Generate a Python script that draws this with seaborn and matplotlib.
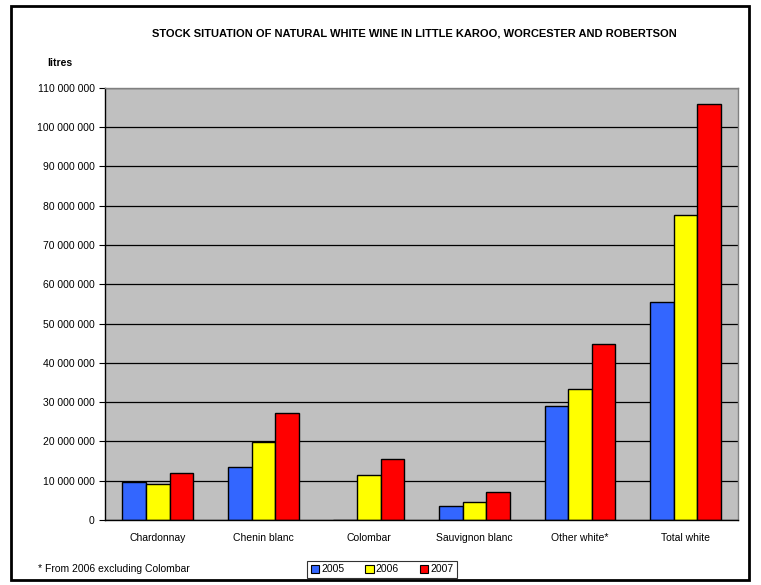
import numpy as np
import pandas as pd
import matplotlib
matplotlib.use("Agg")
import matplotlib.pyplot as plt
import matplotlib.patches as mpatches
import seaborn as sns

# ── Data ──────────────────────────────────────────────────────────────────────
categories = ["Chardonnay", "Chenin blanc", "Colombar", "Sauvignon blanc",
              "Other white*", "Total white"]
years = ["2005", "2006", "2007"]
stock_2005 = [9.6e6, 13.5e6, 0, 3.6e6, 29.0e6, 55.5e6]
stock_2006 = [9.1e6, 19.8e6, 11.5e6, 4.6e6, 33.3e6, 77.7e6]
stock_2007 = [11.9e6, 27.2e6, 15.5e6, 7.1e6, 44.7e6, 105.9e6]
colors = ["#3366FF", "#FFFF00", "#FF0000"]
yticks = np.arange(0, 110_000_001, 10_000_000)

df = pd.DataFrame({
    "category": categories * 3,
    "year": np.repeat(years, len(categories)),
    "litres": stock_2005 + stock_2006 + stock_2007,
})

# ── Plot ──────────────────────────────────────────────────────────────────────
sns.set_style("white")
plt.rcParams["font.family"] = ["Liberation Sans", "DejaVu Sans"]
plt.rcParams["text.color"] = "black"
plt.rcParams["xtick.color"] = "black"
plt.rcParams["ytick.color"] = "black"

fig = plt.figure(figsize=(7.61, 5.85), dpi=100)
ax = fig.add_axes([0.138, 0.111, 0.832, 0.739])
ax.set_facecolor("#C0C0C0")

sns.barplot(data=df, x="category", y="litres", hue="year", palette=colors,
            saturation=1, width=0.67, edgecolor="black", linewidth=1,
            legend=False, ax=ax)

ax.set_ylim(0, 110_000_000)
ax.set_xlim(-0.5, len(categories) - 0.5)
ax.set_yticks(yticks)
ax.set_yticklabels([f"{v:,}".replace(",", " ") for v in yticks], fontsize=7.5)
ax.yaxis.grid(True, color="black", linewidth=0.9)
ax.set_axisbelow(True)

ax.set_xticks(range(len(categories)))
ax.set_xticklabels(categories, fontsize=7.5)
ax.tick_params(axis="x", length=0, pad=9)
# tick marks sit at category boundaries
ax.set_xticks(np.arange(-0.5, len(categories)), minor=True)
ax.tick_params(axis="x", which="minor", direction="out", length=4, color="black")
ax.tick_params(axis="y", direction="out", length=4, color="black", left=True)
ax.set_xlabel("")
ax.set_ylabel("")

for side in ["left", "bottom"]:
    ax.spines[side].set_color("black")
    ax.spines[side].set_linewidth(1)
for side in ["top", "right"]:
    ax.spines[side].set_color("#808080")
    ax.spines[side].set_linewidth(1)

fig.text(0.545, 0.942, "STOCK SITUATION OF NATURAL WHITE WINE IN LITTLE KAROO, WORCESTER AND ROBERTSON",
         ha="center", va="center", fontsize=8, fontweight="bold")
fig.text(0.062, 0.893, "litres", ha="left", va="center", fontsize=7.5, fontweight="bold")
fig.text(0.05, 0.027, "* From 2006 excluding Colombar", ha="left", va="center", fontsize=7.5)

handles = [mpatches.Patch(facecolor=c, edgecolor="black", linewidth=0.8, label=y)
           for c, y in zip(colors, years)]
leg = fig.legend(handles=handles, loc="center", bbox_to_anchor=(0.502, 0.027), ncol=3,
                 fontsize=7.5, frameon=True, fancybox=False, edgecolor="black",
                 handlelength=0.8, handleheight=0.8, handletextpad=0.2,
                 columnspacing=2.0, borderpad=0.35)
leg.get_frame().set_linewidth(0.8)

# outer chart frame
fig.patches.append(mpatches.Rectangle((0.014, 0.008), 0.970, 0.982, transform=fig.transFigure,
                                      fill=False, edgecolor="black", linewidth=2))

plt.savefig("out.png", dpi=100)
